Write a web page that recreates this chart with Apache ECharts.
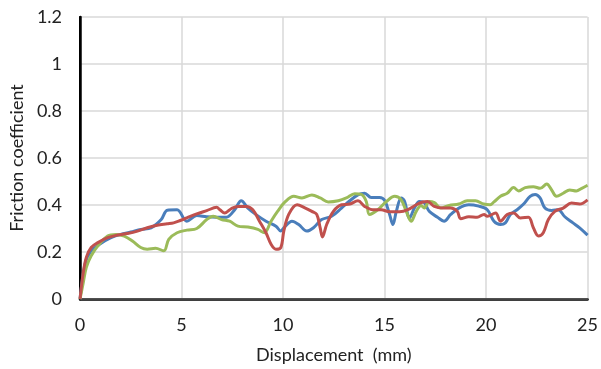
<!DOCTYPE html>
<html>
<head>
<meta charset="utf-8">
<script src="https://cdn.jsdelivr.net/npm/echarts@6/dist/echarts.min.js"></script>
<style>
  html, body { margin: 0; padding: 0; background: #fff; }
  #chart { width: 601px; height: 369px; }
</style>
</head>
<body>
<div id="chart"></div>
<script>
// values
const blueX = [0, 0.25, 0.5, 1, 1.5, 2, 2.5, 3, 3.5, 4, 4.3, 4.78, 5.26, 5.75, 6.24, 6.73, 7.21, 7.62, 7.94, 8.27, 8.67, 9.16, 9.65, 9.89, 10.04, 10.44, 10.77, 11.17, 11.5, 11.9, 12.39, 12.88, 13.29, 13.69, 14.02, 14.34, 14.75, 15.0, 15.25, 15.41, 15.58, 15.82, 15.98, 16.23, 16.47, 16.72, 16.96, 17.2, 17.61, 17.93, 18.26, 18.66, 19.15, 19.64, 20.06, 20.39, 20.71, 20.95, 21.2, 21.53, 21.85, 22.17, 22.42, 22.66, 22.9, 23.23, 23.55, 23.88, 24.28, 24.61, 25];
const blueY = [0, 0.15, 0.2, 0.235, 0.26, 0.275, 0.285, 0.296, 0.303, 0.338, 0.378, 0.38, 0.331, 0.355, 0.35, 0.348, 0.348, 0.38, 0.418, 0.387, 0.359, 0.331, 0.31, 0.289, 0.303, 0.331, 0.317, 0.289, 0.303, 0.338, 0.352, 0.387, 0.418, 0.443, 0.45, 0.432, 0.432, 0.42, 0.36, 0.317, 0.373, 0.43, 0.417, 0.345, 0.387, 0.415, 0.41, 0.373, 0.348, 0.331, 0.36, 0.387, 0.401, 0.395, 0.38, 0.331, 0.317, 0.324, 0.36, 0.38, 0.404, 0.437, 0.445, 0.43, 0.387, 0.377, 0.38, 0.35, 0.324, 0.303, 0.272];

const redX = [0, 0.15, 0.31, 0.55, 0.88, 1.36, 1.85, 2.34, 2.83, 3.31, 3.8, 4.29, 4.61, 4.94, 5.26, 5.75, 6.24, 6.73, 6.89, 7.13, 7.46, 7.78, 8.19, 8.51, 8.84, 9.16, 9.41, 9.65, 9.89, 10.04, 10.28, 10.69, 11.1, 11.42, 11.66, 11.83, 11.94, 12.15, 12.48, 12.88, 13.29, 13.69, 14.02, 14.42, 14.83, 15.25, 15.74, 16.15, 16.56, 16.88, 17.12, 17.45, 17.85, 18.26, 18.58, 18.75, 19.15, 19.56, 19.9, 20.06, 20.47, 20.71, 21.04, 21.36, 21.69, 22.09, 22.33, 22.58, 22.82, 23.07, 23.39, 23.8, 24.21, 24.61, 25];
const redY = [0, 0.107, 0.177, 0.219, 0.24, 0.261, 0.272, 0.279, 0.289, 0.303, 0.314, 0.32, 0.324, 0.334, 0.345, 0.362, 0.376, 0.39, 0.38, 0.366, 0.385, 0.394, 0.394, 0.38, 0.331, 0.282, 0.233, 0.212, 0.219, 0.29, 0.36, 0.401, 0.387, 0.373, 0.36, 0.303, 0.264, 0.317, 0.373, 0.401, 0.404, 0.418, 0.394, 0.38, 0.38, 0.371, 0.371, 0.38, 0.401, 0.413, 0.415, 0.394, 0.387, 0.387, 0.373, 0.342, 0.35, 0.348, 0.36, 0.352, 0.366, 0.331, 0.36, 0.366, 0.345, 0.348, 0.303, 0.268, 0.282, 0.338, 0.373, 0.387, 0.408, 0.404, 0.422];

const greenX = [0, 0.15, 0.31, 0.55, 0.88, 1.36, 1.77, 2.18, 2.58, 2.99, 3.31, 3.72, 4.13, 4.37, 4.78, 5.26, 5.75, 6.24, 6.56, 6.97, 7.37, 7.78, 8.27, 8.76, 9.08, 9.41, 9.73, 10.12, 10.53, 10.93, 11.42, 11.83, 12.23, 12.72, 13.12, 13.53, 13.86, 14.1, 14.26, 14.67, 15.09, 15.5, 15.82, 16.07, 16.31, 16.56, 16.8, 16.96, 17.2, 17.45, 17.77, 18.18, 18.66, 19.07, 19.48, 19.88, 20.2, 20.39, 20.71, 21.04, 21.36, 21.61, 21.93, 22.33, 22.66, 22.99, 23.23, 23.47, 23.8, 24.12, 24.45, 24.69, 25];
const greenY = [0, 0.065, 0.135, 0.184, 0.226, 0.268, 0.275, 0.268, 0.247, 0.219, 0.212, 0.216, 0.205, 0.254, 0.282, 0.293, 0.3, 0.338, 0.352, 0.338, 0.331, 0.31, 0.306, 0.296, 0.282, 0.331, 0.373, 0.415, 0.437, 0.43, 0.443, 0.43, 0.413, 0.418, 0.43, 0.448, 0.445, 0.415, 0.36, 0.38, 0.415, 0.437, 0.422, 0.373, 0.331, 0.373, 0.398, 0.387, 0.415, 0.41, 0.387, 0.398, 0.404, 0.418, 0.418, 0.404, 0.401, 0.413, 0.437, 0.45, 0.474, 0.46, 0.474, 0.478, 0.471, 0.489, 0.464, 0.437, 0.45, 0.464, 0.46, 0.47, 0.484];

const xTicks = [0, 5, 10, 15, 20, 25];
const yTicks = [0, 0.2, 0.4, 0.6, 0.8, 1, 1.2];

function pairs(xs, ys) {
    return xs.map((x, i) => [x, ys[i]]);
}

function lineSeries(name, xs, ys, color) {
    return {
        name: name,
        type: 'line',
        data: pairs(xs, ys),
        showSymbol: false,
        smooth: 0.35,
        lineStyle: {color: color, width: 3},
        itemStyle: {color: color},
        xAxisIndex: 0,
        yAxisIndex: 0
    };
}

const font = 'Lato, "Noto Sans", sans-serif';
let myChart = echarts.init(document.getElementById('chart'));
let option = {
    animation: false,
    grid: {left: 77, right: 11, top: 17, bottom: 67},
    xAxis: [{
        type: 'value',
        min: xTicks[0],
        max: xTicks[xTicks.length - 1],
        interval: 5,
        name: 'Displacement  (mm)',
        nameLocation: 'center',
        nameGap: 47,
        nameTextStyle: {color: '#222', fontSize: 18, fontFamily: font},
        axisLine: {lineStyle: {color: '#000', width: 2.5}},
        axisTick: {show: false},
        axisLabel: {color: '#222', fontSize: 18, fontFamily: font, margin: 17},
        splitLine: {lineStyle: {color: '#d9d9d9', width: 1.5}}
    }, {
        type: 'value', position: 'top',
        min: 0, max: 25,
        axisLine: {lineStyle: {color: '#595959', width: 1.5}},
        axisTick: {show: false}, axisLabel: {show: false}, splitLine: {show: false}
    }],
    yAxis: [{
        type: 'value',
        min: yTicks[0],
        max: yTicks[yTicks.length - 1],
        interval: 0.2,
        name: 'Friction coefficient',
        nameLocation: 'center',
        nameGap: 52,
        nameTextStyle: {color: '#222', fontSize: 18, fontFamily: font},
        axisLine: {show: true, lineStyle: {color: '#000', width: 2.5}},
        axisTick: {show: false},
        axisLabel: {color: '#222', fontSize: 18, fontFamily: font, margin: 18},
        splitLine: {lineStyle: {color: '#d9d9d9', width: 1.5}}
    }, {
        type: 'value', position: 'right',
        min: 0, max: 1.2,
        axisLine: {show: true, lineStyle: {color: '#000', width: 2}},
        axisTick: {show: false}, axisLabel: {show: false}, splitLine: {show: false}
    }],
    series: [
        lineSeries('blue', blueX, blueY, '#4a7ebb'),
        lineSeries('green', greenX, greenY, '#9bbb59'),
        lineSeries('red', redX, redY, '#c0504d')
    ]
};
myChart.setOption(option);
</script>
</body>
</html>
